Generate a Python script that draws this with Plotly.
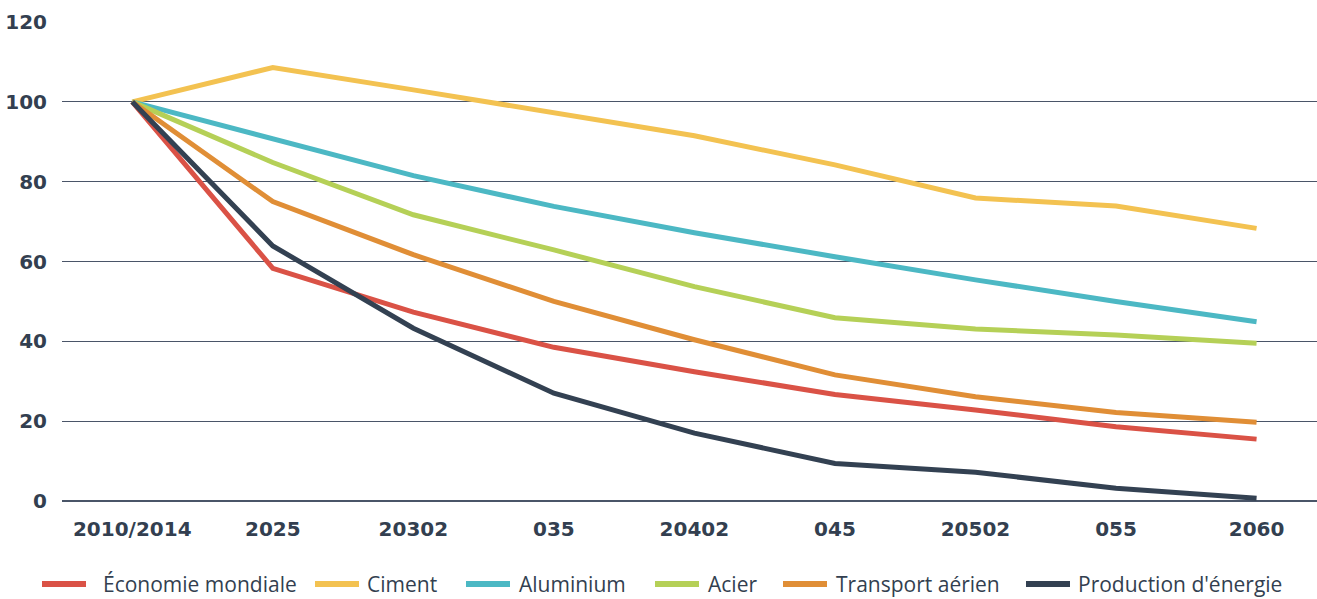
import plotly.graph_objects as go

# Horizon labels along the x axis
periods = ["2010/2014", "2025", "20302", "035", "20402", "045", "20502", "055", "2060"]

# Index values (base 100) per sector
economie_mondiale = [100, 58.3, 47.3, 38.5, 32.4, 26.7, 22.8, 18.6, 15.5]
ciment = [100, 108.6, 103.0, 97.3, 91.5, 84.2, 75.9, 73.9, 68.3]
aluminium = [100, 90.8, 81.5, 73.8, 67.2, 61.2, 55.4, 50.0, 44.9]
acier = [100, 84.8, 71.7, 62.9, 53.7, 45.9, 43.1, 41.6, 39.5]
transport_aerien = [100, 75.0, 61.7, 50.0, 40.4, 31.6, 26.1, 22.2, 19.7]
production_energie = [100, 63.9, 43.3, 27.0, 17.0, 9.4, 7.2, 3.2, 0.7]

y_ticks = [0, 20, 40, 60, 80, 100, 120]

series_names = ["Économie mondiale", "Ciment", "Aluminium", "Acier",
                "Transport aérien", "Production d'énergie"]
series_values = [economie_mondiale, ciment, aluminium, acier,
                 transport_aerien, production_energie]
series_colors = ["#DA5246", "#F3C251", "#4CB8C4", "#B5D057", "#E08E36", "#334152"]

# Canvas and plot-area geometry (pixels)
W, H = 1317, 599
M_L, M_R, M_T, M_B = 62, 0, 22, 98
plot_w = W - M_L - M_R
plot_h = H - M_T - M_B


def px_x(px):
    return (px - M_L) / plot_w


def px_y(py):
    return (H - M_B - py) / plot_h


fig = go.Figure()
for name, values, color in zip(series_names, series_values, series_colors):
    fig.add_trace(go.Scatter(
        x=list(range(len(periods))),
        y=values,
        name=name,
        mode="lines",
        line=dict(color=color, width=5),
        showlegend=False,
    ))

text_color = "#333F50"
tick_font = dict(family="DejaVu Sans", size=20, color=text_color, weight="bold")

# Legend row drawn beneath the axis: swatch start, swatch end, label start
legend_slots = [(42, 86, 102), (315, 359, 366), (466, 510, 518),
                (655, 699, 707), (783, 827, 835), (1026, 1070, 1077)]
legend_y = 584

shapes = []
annotations = []
for (s0, s1, t0), name, color in zip(legend_slots, series_names, series_colors):
    shapes.append(dict(
        type="line", xref="paper", yref="paper",
        x0=px_x(s0), x1=px_x(s1), y0=px_y(legend_y), y1=px_y(legend_y),
        line=dict(color=color, width=6),
    ))
    annotations.append(dict(
        xref="paper", yref="paper",
        x=px_x(t0), y=px_y(legend_y),
        xanchor="left", yanchor="middle",
        text=name, showarrow=False, borderpad=0,
        font=dict(family="Open Sans", size=21, color=text_color),
    ))

fig.update_layout(
    width=W,
    height=H,
    margin=dict(l=M_L, r=M_R, t=M_T, b=M_B),
    paper_bgcolor="white",
    plot_bgcolor="white",
    font=dict(family="Open Sans", color=text_color),
    showlegend=False,
    shapes=shapes,
    annotations=annotations,
    xaxis=dict(
        tickmode="array",
        tickvals=list(range(len(periods))),
        ticktext=periods,
        range=[-0.5, 8.43],
        showgrid=False,
        zeroline=False,
        showline=False,
        ticks="",
        tickfont=tick_font,
        ticklabelstandoff=14,
    ),
    yaxis=dict(
        tickmode="array",
        tickvals=y_ticks,
        range=[0, 120],
        showgrid=True,
        gridcolor="#4A5568",
        gridwidth=1,
        zeroline=True,
        zerolinecolor="#4A5568",
        zerolinewidth=1.5,
        showline=False,
        ticks="",
        tickfont=tick_font,
        ticklabelstandoff=14,
    ),
)

fig.write_html("out.html")
